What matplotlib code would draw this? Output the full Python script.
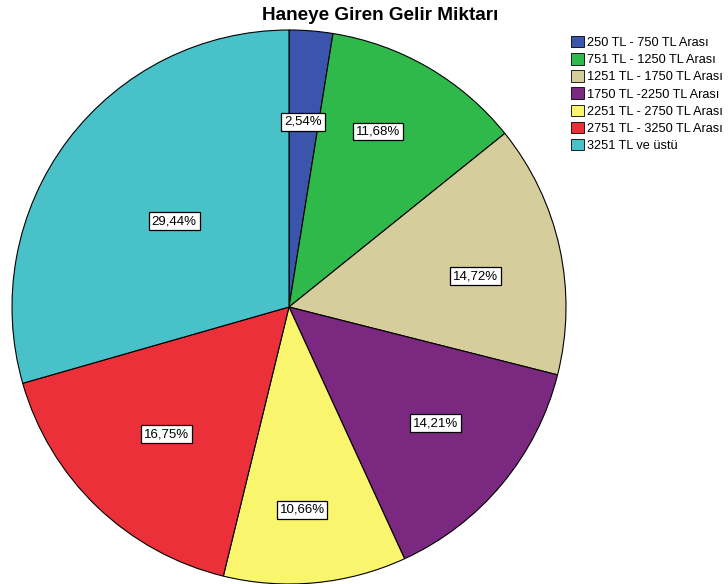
import numpy as np
import matplotlib
matplotlib.use("Agg")
import matplotlib.pyplot as plt
from matplotlib.patches import Patch

plt.rcParams["font.family"] = ["Liberation Sans", "DejaVu Sans"]

categories = [
    "250 TL - 750 TL Arası",
    "751 TL - 1250 TL Arası",
    "1251 TL - 1750 TL Arası",
    "1750 TL -2250 TL Arası",
    "2251 TL - 2750 TL Arası",
    "2751 TL - 3250 TL Arası",
    "3251 TL ve üstü",
]
percentages = [2.54, 11.68, 14.72, 14.21, 10.66, 16.75, 29.44]
colors = ["#3a55ab", "#2fb94b", "#d5cd9c", "#7b2880", "#f9f56c", "#ec3039", "#48c1c9"]
# placement of each percentage label: radial distance (fraction of radius)
# and angular nudge (degrees) away from the wedge's middle
label_radius = [0.67, 0.71, 0.684, 0.676, 0.734, 0.636, 0.518]
label_nudge = [0.3, 3.3, -2.9, 1.4, -1.8, 0.0, 0.2]

fig = plt.figure(figsize=(7.28, 5.84), dpi=100)
ax = fig.add_axes([12 / 728, 0, 554 / 728, 554 / 584])

wedges, texts, autotexts = ax.pie(
    percentages,
    colors=colors,
    startangle=90,
    counterclock=False,
    autopct=lambda p: f"{p:.2f}%".replace(".", ","),
    pctdistance=0.68,
    wedgeprops=dict(edgecolor="black", linewidth=0.8),
    textprops=dict(fontsize=9.5, color="black"),
)
for w, t, r, d in zip(wedges, autotexts, label_radius, label_nudge):
    mid = np.deg2rad((w.theta1 + w.theta2) / 2 + d)
    t.set_position((r * np.cos(mid), r * np.sin(mid)))
    t.set_bbox(dict(boxstyle="square,pad=0.22", facecolor="white", edgecolor="black", linewidth=0.9))
ax.set_xlim(-1, 1)
ax.set_ylim(-1, 1)
ax.set_aspect("equal")

fig.text(380 / 728, 1 - 15 / 584, "Haneye Giren Gelir Miktarı", ha="center", va="center",
         fontsize=13.6, fontweight="bold")

handles = [Patch(facecolor=c, edgecolor="black", linewidth=0.6) for c in colors]
fig.legend(handles, categories, loc="upper left", bbox_to_anchor=(562 / 728, 1 - 27 / 584),
           frameon=False, fontsize=9.2, handlelength=1.0, handleheight=1.0,
           handletextpad=0.25, labelspacing=0.32, borderpad=0.2)

fig.savefig("out.png", dpi=100)
